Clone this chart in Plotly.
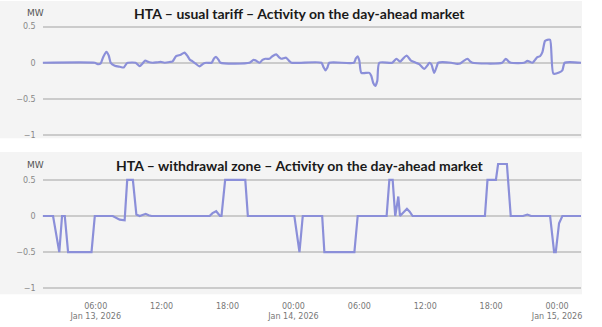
import plotly.graph_objects as go

# --- HTA usual tariff: activity on the day-ahead market (MW) ---
tariff_times = [
    "2026-01-13 01:10", "2026-01-13 05:55", "2026-01-13 06:11", "2026-01-13 06:27",
    "2026-01-13 06:41", "2026-01-13 06:58", "2026-01-13 07:11", "2026-01-13 07:22",
    "2026-01-13 07:44", "2026-01-13 08:11", "2026-01-13 08:33", "2026-01-13 08:49",
    "2026-01-13 08:57", "2026-01-13 09:38", "2026-01-13 10:00", "2026-01-13 10:16",
    "2026-01-13 10:30", "2026-01-13 10:49", "2026-01-13 11:11", "2026-01-13 11:33",
    "2026-01-13 11:55", "2026-01-13 12:16", "2026-01-13 12:44", "2026-01-13 13:00",
    "2026-01-13 13:19", "2026-01-13 13:44", "2026-01-13 14:05", "2026-01-13 14:22",
    "2026-01-13 14:35", "2026-01-13 14:49", "2026-01-13 15:05", "2026-01-13 15:27",
    "2026-01-13 15:49", "2026-01-13 16:05", "2026-01-13 16:33", "2026-01-13 16:46",
    "2026-01-13 16:58", "2026-01-13 17:11", "2026-01-13 17:22", "2026-01-13 20:00",
    "2026-01-13 20:22", "2026-01-13 20:38", "2026-01-13 20:55", "2026-01-13 21:11",
    "2026-01-13 21:27", "2026-01-13 21:49", "2026-01-13 22:05", "2026-01-13 22:26",
    "2026-01-13 22:44", "2026-01-13 22:55", "2026-01-13 23:20", "2026-01-13 23:35",
    "2026-01-13 23:49", "2026-01-14 02:33", "2026-01-14 02:44", "2026-01-14 02:55",
    "2026-01-14 03:05", "2026-01-14 03:16", "2026-01-14 05:30", "2026-01-14 05:41",
    "2026-01-14 05:51", "2026-01-14 06:00", "2026-01-14 06:11", "2026-01-14 06:55",
    "2026-01-14 07:05", "2026-01-14 07:16", "2026-01-14 07:27", "2026-01-14 07:38",
    "2026-01-14 07:49", "2026-01-14 09:00", "2026-01-14 09:23", "2026-01-14 09:42",
    "2026-01-14 10:00", "2026-01-14 10:18", "2026-01-14 10:42", "2026-01-14 11:09",
    "2026-01-14 11:27", "2026-01-14 11:55", "2026-01-14 12:11", "2026-01-14 12:22",
    "2026-01-14 12:33", "2026-01-14 12:49", "2026-01-14 13:03", "2026-01-14 13:11",
    "2026-01-14 14:22", "2026-01-14 14:47", "2026-01-14 15:11", "2026-01-14 15:27",
    "2026-01-14 15:51", "2026-01-14 16:05", "2026-01-14 16:18", "2026-01-14 19:00",
    "2026-01-14 19:20", "2026-01-14 19:38", "2026-01-14 19:47", "2026-01-14 21:00",
    "2026-01-14 21:18", "2026-01-14 21:45", "2026-01-14 22:00", "2026-01-14 22:12",
    "2026-01-14 22:27", "2026-01-14 22:40", "2026-01-14 22:54", "2026-01-14 23:07",
    "2026-01-14 23:22", "2026-01-14 23:40", "2026-01-15 00:11", "2026-01-15 00:29",
    "2026-01-15 00:42", "2026-01-15 02:11",
]
tariff_mw = [
    0, 0, -0.02, -0.01,
    0.08, 0.15, 0.10, 0,
    -0.04, -0.055, -0.065, -0.01,
    0, 0, -0.047, -0.01,
    0.03, 0.01, 0, 0.005,
    0.012, 0, 0.01, 0.02,
    0.09, 0.11, 0.14, 0.09,
    0.04, 0.02, -0.01, -0.05,
    -0.01, 0, 0, 0.06,
    0.08, 0.04, 0, 0,
    0.04, 0.025, 0, 0.04,
    0.055, 0.055, 0.09, 0.115,
    0.07, 0.055, 0.07, 0.03,
    0, 0, -0.06, -0.105,
    -0.07, 0, 0, 0.06,
    0.09, 0.03, -0.14, -0.14,
    -0.18, -0.28, -0.32, -0.25,
    0, 0, 0.055, 0.015,
    0.06, 0.10, 0.03, 0,
    -0.02, -0.085, -0.04, 0,
    -0.02, -0.14, -0.05, 0,
    0, -0.014, -0.01, 0.02,
    0.055, 0.02, 0, 0,
    0.055, 0.01, 0, 0,
    0.025, 0, 0.04, 0.077,
    0.09, 0.146, 0.30, 0.317,
    0.317, -0.15, -0.135, -0.105,
    0, 0,
]

# --- HTA withdrawal zone: activity on the day-ahead market (MW) ---
withdrawal_times = [
    "2026-01-13 01:10", "2026-01-13 02:07", "2026-01-13 02:41", "2026-01-13 02:56",
    "2026-01-13 03:11", "2026-01-13 03:29", "2026-01-13 05:37", "2026-01-13 05:55",
    "2026-01-13 07:33", "2026-01-13 07:55", "2026-01-13 08:11", "2026-01-13 08:38",
    "2026-01-13 08:52", "2026-01-13 09:23", "2026-01-13 09:42", "2026-01-13 10:00",
    "2026-01-13 10:16", "2026-01-13 10:33", "2026-01-13 10:49", "2026-01-13 11:05",
    "2026-01-13 16:22", "2026-01-13 16:38", "2026-01-13 16:58", "2026-01-13 17:11",
    "2026-01-13 17:19", "2026-01-13 17:27", "2026-01-13 17:47", "2026-01-13 19:37",
    "2026-01-13 19:51", "2026-01-14 00:05", "2026-01-14 00:33", "2026-01-14 00:51",
    "2026-01-14 02:37", "2026-01-14 02:49", "2026-01-14 05:33", "2026-01-14 05:51",
    "2026-01-14 08:29", "2026-01-14 08:44", "2026-01-14 09:02", "2026-01-14 09:16",
    "2026-01-14 09:33", "2026-01-14 09:42", "2026-01-14 10:00", "2026-01-14 10:20",
    "2026-01-14 10:35", "2026-01-14 10:51", "2026-01-14 17:26", "2026-01-14 17:40",
    "2026-01-14 18:26", "2026-01-14 18:38", "2026-01-14 19:26", "2026-01-14 19:47",
    "2026-01-14 20:54", "2026-01-14 21:18", "2026-01-14 21:38", "2026-01-14 23:22",
    "2026-01-14 23:44", "2026-01-14 23:53", "2026-01-15 00:11", "2026-01-15 00:29",
    "2026-01-15 02:11",
]
withdrawal_mw = [
    0, 0, -0.5, 0,
    0, -0.5, -0.5, 0,
    0, -0.03, -0.05, -0.06,
    0.5, 0.5, 0.02, 0,
    0.02, 0.03, 0.01, 0,
    0, 0.04, 0.066, 0.03,
    0, 0, 0.5, 0.5,
    0, 0, -0.5, 0,
    0, -0.5, -0.5, 0,
    0, 0.5, 0.5, 0,
    0.27, 0, 0.05, 0.10,
    0.06, 0, 0, 0.5,
    0.5, 0.72, 0.72, 0,
    0, 0.02, 0, 0,
    -0.5, -0.5, -0.1, 0,
    0,
]

titles = [
    "HTA – usual tariff – Activity on the day-ahead market",
    "HTA – withdrawal zone – Activity on the day-ahead market",
]
y_ticks = [0.5, 0, -0.5, -1]
y_tick_text = ["0.5", "0", "−0.5", "−1"]
x_range = ["2026-01-13 01:10", "2026-01-15 02:11"]

W, H = 602, 327
LINE = "#8b8fd9"
GRID = "#cbcbcb"
PANEL = "#f4f4f4"

fig = go.Figure()
fig.add_trace(go.Scatter(
    x=tariff_times, y=tariff_mw, mode="lines",
    line=dict(color=LINE, width=2.2, shape="spline", smoothing=0.6),
    xaxis="x", yaxis="y", showlegend=False,
))
fig.add_trace(go.Scatter(
    x=withdrawal_times, y=withdrawal_mw, mode="lines",
    line=dict(color=LINE, width=2.2),
    xaxis="x2", yaxis="y2", showlegend=False,
))

x_dom = [42.7 / W, 582 / W]
common_x = dict(
    type="date", range=x_range, domain=x_dom, showgrid=False, zeroline=False,
    dtick=6 * 3600 * 1000, tick0="2026-01-13 00:00", ticks="",
    tickfont=dict(family="DejaVu Sans", size=8, color="#777777"),
)
common_y = dict(
    tickvals=y_ticks, ticktext=y_tick_text, showgrid=True, gridcolor=GRID,
    gridwidth=2, zeroline=False, ticks="", ticklabelstandoff=6,
    tickfont=dict(family="DejaVu Sans", size=8, color="#888888"),
)

fig.update_layout(
    width=W, height=H,
    margin=dict(l=0, r=0, t=0, b=0),
    paper_bgcolor="white", plot_bgcolor="rgba(0,0,0,0)",
    xaxis=dict(common_x, anchor="y", showticklabels=False),
    xaxis2=dict(common_x, anchor="y2", ticklabelstandoff=8),
    yaxis=dict(common_y, range=[-1.05, 0.55], domain=[0.5761, 0.9325], anchor="x"),
    yaxis2=dict(common_y, range=[-1.05, 0.8], domain=[0.1052, 0.5162], anchor="x2"),
    shapes=[
        dict(type="rect", xref="paper", yref="paper", x0=0, x1=583 / W,
             y0=(H - 138) / H, y1=1, fillcolor=PANEL, line_width=0, layer="below"),
        dict(type="rect", xref="paper", yref="paper", x0=0, x1=583 / W,
             y0=(H - 295) / H, y1=(H - 152) / H, fillcolor=PANEL, line_width=0,
             layer="below"),
    ],
    annotations=[
        dict(text="<b>%s</b>" % titles[0], xref="paper", yref="paper",
             x=300 / W, y=(H - 13) / H, showarrow=False, xanchor="center",
             yanchor="middle", font=dict(family="Lato", size=14, color="#1a1a1a")),
        dict(text="<b>%s</b>" % titles[1], xref="paper", yref="paper",
             x=300 / W, y=(H - 166) / H, showarrow=False, xanchor="center",
             yanchor="middle", font=dict(family="Lato", size=14, color="#1a1a1a")),
        dict(text="MW", xref="paper", yref="paper", x=36 / W, y=(H - 12) / H,
             showarrow=False, xanchor="center", yanchor="middle",
             font=dict(family="DejaVu Sans", size=9, color="#555555")),
        dict(text="MW", xref="paper", yref="paper", x=36 / W, y=(H - 165) / H,
             showarrow=False, xanchor="center", yanchor="middle",
             font=dict(family="DejaVu Sans", size=9, color="#555555")),
    ],
)

fig.write_html("out.html")
